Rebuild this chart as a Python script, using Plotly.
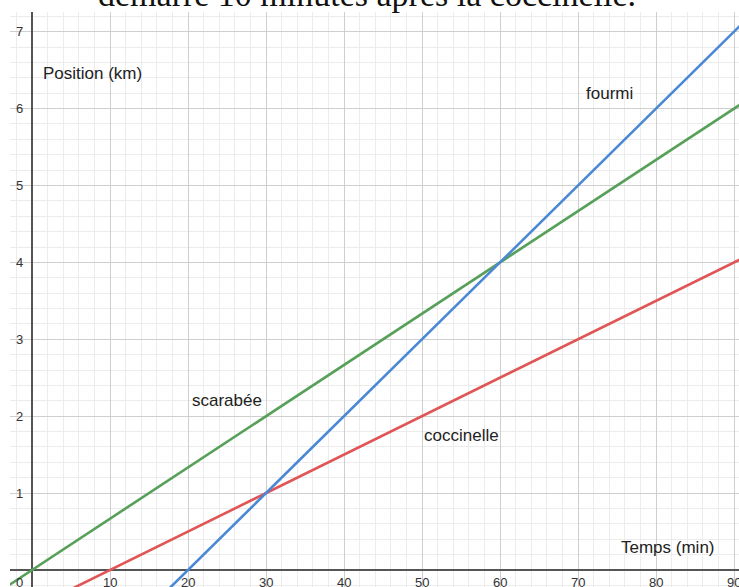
import plotly.graph_objects as go

# ---- data ----
temps_scarabee = [-5, 0, 30, 60, 90, 95]
pos_scarabee = [-0.333, 0, 2, 4, 6, 6.333]

temps_coccinelle = [5, 10, 30, 50, 70, 90, 95]
pos_coccinelle = [-0.25, 0, 1, 2, 3, 4, 4.25]

temps_fourmi = [17, 20, 30, 60, 90, 95]
pos_fourmi = [-0.3, 0, 1, 4, 7, 7.5]

x_tick_vals = [10, 20, 30, 40, 50, 60, 70, 80, 90]
x_tick_text = ["10", "20", "30", "40", "50", "60", "70", "80", "90"]
y_tick_vals = [1, 2, 3, 4, 5, 6, 7]
y_tick_text = ["1", "2", "3", "4", "5", "6", "7"]

series_names = ["scarabée", "coccinelle", "fourmi"]
title_text = "démarre 10 minutes après la coccinelle."

# ---- styles ----
BLUE = "#4a88d6"
GREEN = "#57a05a"
RED = "#e05555"
FONT = "Liberation Sans, Arial, sans-serif"

fig = go.Figure()
fig.add_trace(go.Scatter(x=temps_scarabee, y=pos_scarabee, mode="lines",
                         line=dict(color=GREEN, width=2.6), name=series_names[0]))
fig.add_trace(go.Scatter(x=temps_coccinelle, y=pos_coccinelle, mode="lines",
                         line=dict(color=RED, width=2.6), name=series_names[1]))
fig.add_trace(go.Scatter(x=temps_fourmi, y=pos_fourmi, mode="lines",
                         line=dict(color=BLUE, width=2.6), name=series_names[2]))

annotations = []
for v, t in zip(x_tick_vals, x_tick_text):
    annotations.append(dict(x=v, y=0, xref="x", yref="y", text=t, showarrow=False,
                            yshift=-12, font=dict(family=FONT, size=13, color="#333")))
for v, t in zip(y_tick_vals, y_tick_text):
    annotations.append(dict(x=0, y=v, xref="x", yref="y", text=t, showarrow=False,
                            xshift=-12.5, font=dict(family=FONT, size=13, color="#333")))
annotations.append(dict(x=0, y=0, xref="x", yref="y", text="0", showarrow=False,
                        xshift=-13, yshift=-12, font=dict(family=FONT, size=13, color="#333")))

labels = [
    ("Position (km)", 7.7, 6.46),
    ("Temps (min)", 81.5, 0.29),
    ("fourmi", 74, 6.2),
    ("scarabée", 25, 2.2),
    ("coccinelle", 55, 1.75),
]
for t, x, y in labels:
    annotations.append(dict(x=x, y=y, xref="x", yref="y", text=t, showarrow=False,
                            font=dict(family=FONT, size=17, color="#222")))

annotations.append(dict(x=362 / 739, y=1, xref="paper", yref="paper", text=title_text,
                        showarrow=False, xanchor="center", yanchor="bottom", yshift=-3,
                        font=dict(family="Liberation Serif, serif", size=34, color="#111")))

axis_common = dict(showgrid=True, gridcolor="#cfcfcf", gridwidth=1.3,
                   zeroline=True, zerolinecolor="#555", zerolinewidth=2,
                   showticklabels=False, ticks="", showline=False,
                   minor=dict(showgrid=True, gridcolor="#ececec", gridwidth=1))

fig.update_layout(
    width=739, height=587,
    margin=dict(l=10, r=0, t=12, b=0),
    paper_bgcolor="white", plot_bgcolor="white",
    showlegend=False,
    xaxis=dict(range=[-2.82, 90.64], dtick=10, tick0=0, **axis_common),
    yaxis=dict(range=[-0.221, 7.256], dtick=1, tick0=0, **axis_common),
    annotations=annotations,
)
fig.update_xaxes(minor_dtick=2)
fig.update_yaxes(minor_dtick=0.2)

fig.write_html("out.html", config={"displayModeBar": False},
               post_script="document.body.style.margin='0';document.body.style.overflow='hidden';")
